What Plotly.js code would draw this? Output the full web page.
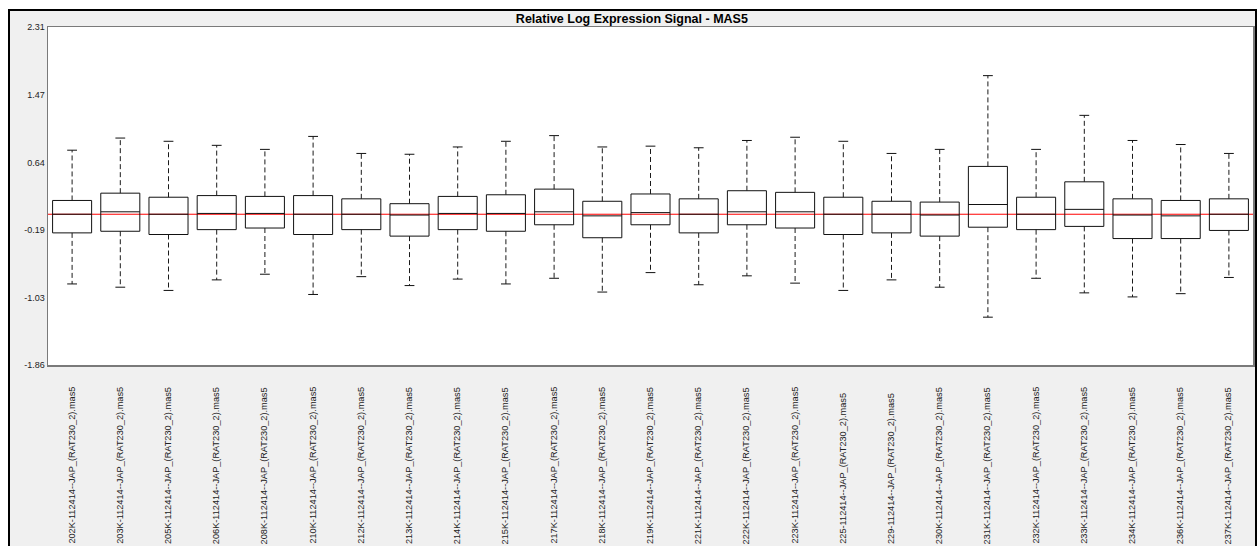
<!DOCTYPE html>
<html>
<head>
<meta charset="utf-8">
<script src="https://cdn.plot.ly/plotly-3.0.1.min.js"></script>
<style>
  html, body { margin: 0; padding: 0; background: #ffffff; width: 1259px; height: 546px; overflow: hidden; }
  #frame {
    position: absolute; left: 8px; top: 9px;
    width: 1245px; height: 537px;
    border-left: 2px solid #000; border-top: 2px solid #000; border-right: 2px solid #000;
    background: #f0f0f0; overflow: hidden;
  }
  #chart { width: 1245px; height: 535px; }
</style>
</head>
<body>
<div id="frame"><div id="chart"></div></div>
<script>
// Array names (one box per array)
const samples = [
  "202K-112414--JAP_(RAT230_2).mas5",
  "203K-112414--JAP_(RAT230_2).mas5",
  "205K-112414--JAP_(RAT230_2).mas5",
  "206K-112414--JAP_(RAT230_2).mas5",
  "208K-112414--JAP_(RAT230_2).mas5",
  "210K-112414--JAP_(RAT230_2).mas5",
  "212K-112414--JAP_(RAT230_2).mas5",
  "213K-112414--JAP_(RAT230_2).mas5",
  "214K-112414--JAP_(RAT230_2).mas5",
  "215K-112414--JAP_(RAT230_2).mas5",
  "217K-112414--JAP_(RAT230_2).mas5",
  "218K-112414--JAP_(RAT230_2).mas5",
  "219K-112414--JAP_(RAT230_2).mas5",
  "221K-112414--JAP_(RAT230_2).mas5",
  "222K-112414--JAP_(RAT230_2).mas5",
  "223K-112414--JAP_(RAT230_2).mas5",
  "225-112414--JAP_(RAT230_2).mas5",
  "229-112414--JAP_(RAT230_2).mas5",
  "230K-112414--JAP_(RAT230_2).mas5",
  "231K-112414--JAP_(RAT230_2).mas5",
  "232K-112414--JAP_(RAT230_2).mas5",
  "233K-112414--JAP_(RAT230_2).mas5",
  "234K-112414--JAP_(RAT230_2).mas5",
  "236K-112414--JAP_(RAT230_2).mas5",
  "237K-112414--JAP_(RAT230_2).mas5"
];

// Relative log expression summary per array
const whiskerHigh = [0.79, 0.94, 0.90, 0.85, 0.80, 0.96, 0.75, 0.74, 0.83, 0.90, 0.97, 0.83, 0.84, 0.82, 0.91, 0.95, 0.90, 0.75, 0.80, 1.71, 0.80, 1.22, 0.91, 0.86, 0.75];
const upperQuartile = [0.17, 0.26, 0.21, 0.23, 0.22, 0.23, 0.19, 0.13, 0.22, 0.24, 0.31, 0.16, 0.25, 0.19, 0.29, 0.27, 0.21, 0.16, 0.15, 0.59, 0.21, 0.40, 0.19, 0.17, 0.19];
const medians = [0.00, 0.03, 0.00, 0.01, 0.01, 0.00, 0.00, -0.01, 0.01, 0.01, 0.03, -0.02, 0.02, 0.00, 0.03, 0.03, 0.00, 0.00, -0.01, 0.12, 0.00, 0.06, -0.01, -0.02, 0.00];
const lowerQuartile = [-0.23, -0.21, -0.25, -0.19, -0.17, -0.25, -0.19, -0.27, -0.19, -0.21, -0.13, -0.29, -0.13, -0.23, -0.13, -0.17, -0.25, -0.23, -0.27, -0.16, -0.19, -0.15, -0.30, -0.30, -0.20];
const whiskerLow = [-0.86, -0.90, -0.94, -0.81, -0.74, -0.99, -0.77, -0.88, -0.80, -0.86, -0.79, -0.96, -0.72, -0.87, -0.76, -0.85, -0.94, -0.81, -0.90, -1.27, -0.79, -0.97, -1.02, -0.98, -0.78];

// Y axis ticks
const yTickValues = [-1.86, -1.03, -0.19, 0.64, 1.47, 2.31];
const yTickLabels = ["-1.86", "-1.03", "-0.19", "0.64", "1.47", "2.31"];

const FONT = "Liberation Sans, Arial, sans-serif";

// Dashed whisker segments, one pair per array
const whiskerX = [], whiskerY = [];
samples.forEach((s, i) => {
  whiskerX.push(s, s, null, s, s, null);
  whiskerY.push(upperQuartile[i], whiskerHigh[i], null, lowerQuartile[i], whiskerLow[i], null);
});

const traces = [
  {
    type: "scatter", mode: "lines",
    x: whiskerX, y: whiskerY,
    line: { color: "#1a1a1a", width: 1, dash: "5px,3px" },
    connectgaps: false, hoverinfo: "skip", showlegend: false
  },
  {
    type: "scatter", mode: "markers",
    x: samples.concat(samples),
    y: whiskerHigh.concat(whiskerLow),
    marker: { symbol: "line-ew", size: 7, color: "#111", line: { color: "#111", width: 1 } },
    hoverinfo: "skip", showlegend: false
  },
  {
    type: "box",
    x: samples,
    q1: lowerQuartile,
    median: medians,
    q3: upperQuartile,
    lowerfence: lowerQuartile,
    upperfence: upperQuartile,
    width: 0.81,
    whiskerwidth: 0,
    fillcolor: "rgba(0,0,0,0)",
    line: { color: "#111", width: 1 },
    boxpoints: false,
    hoverinfo: "skip", showlegend: false
  }
];

// Rotated sample names below the plot
const labelAnnotations = samples.map(s => ({
  x: s, xref: "x",
  y: -0.5355, yref: "paper",
  text: s, showarrow: false,
  textangle: -90,
  xanchor: "center", yanchor: "bottom",
  font: { family: FONT, size: 9.2, color: "#222" }
}));

const layout = {
  width: 1245, height: 535,
  margin: { l: 38, r: 2, t: 16, b: 181, pad: 0 },
  paper_bgcolor: "#f0f0f0",
  plot_bgcolor: "#ffffff",
  title: {
    text: "<b>Relative Log Expression Signal - MAS5</b>",
    x: 0.4995, xanchor: "center",
    y: 0.985, yref: "container", yanchor: "middle",
    font: { family: FONT, size: 12.5, color: "#000" }
  },
  xaxis: {
    type: "category",
    categoryorder: "array", categoryarray: samples,
    range: [-0.5, samples.length - 0.5],
    showticklabels: false, ticks: "",
    showgrid: false, zeroline: false,
    showline: true, mirror: true, linecolor: "#7a7a7a", linewidth: 1.5
  },
  yaxis: {
    range: [-1.86, 2.31],
    tickvals: yTickValues, ticktext: yTickLabels,
    ticks: "", showgrid: false, zeroline: false,
    showline: true, mirror: true, linecolor: "#7a7a7a", linewidth: 1.5,
    tickfont: { family: FONT, size: 9, color: "#222" }
  },
  shapes: [{
    type: "line", layer: "below",
    xref: "paper", x0: 0, x1: 1,
    yref: "y", y0: 0, y1: 0,
    line: { color: "#ff0000", width: 1 }
  }],
  annotations: labelAnnotations,
  showlegend: false
};

Plotly.newPlot("chart", traces, layout, { displayModeBar: false, staticPlot: true });
</script>
</body>
</html>
